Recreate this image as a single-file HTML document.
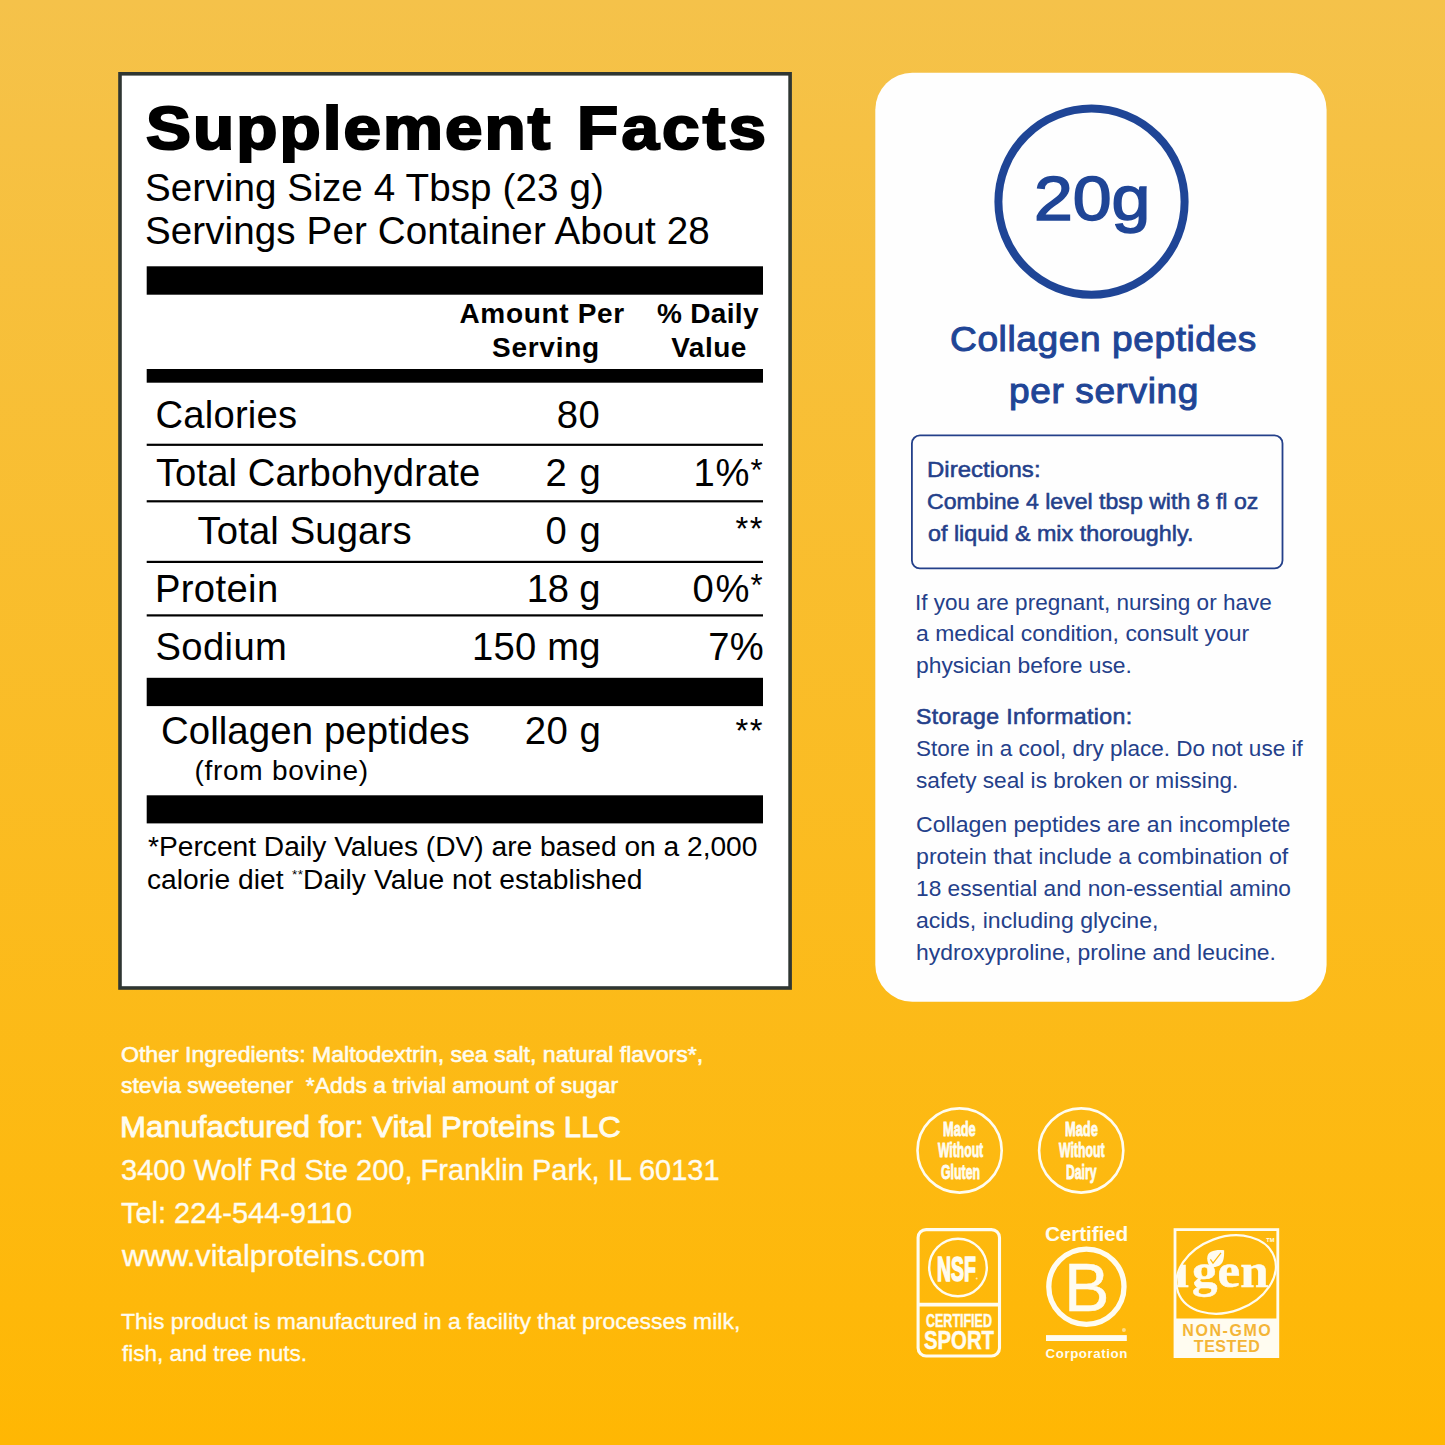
<!DOCTYPE html>
<html><head><meta charset="utf-8"><title>Supplement Facts</title>
<style>
html,body{margin:0;padding:0}
body{width:1445px;height:1445px;position:relative;overflow:hidden;background:linear-gradient(180deg,#f5c24a 0%,#ffb703 100%);font-family:"Liberation Sans",sans-serif}
.t{position:absolute;white-space:pre;margin:0;padding:0}
.a{position:absolute}
</style></head><body>
<svg class="a" style="left:0;top:0" width="1445" height="1445" viewBox="0 0 1445 1445">
<rect x="120" y="73.8" width="670.1" height="914.2" fill="#fff" stroke="#2f3632" stroke-width="3.6"/>
<g fill="#000">
<rect x="146.7" y="266.3" width="616.3" height="28.4"/>
<rect x="146.7" y="369" width="616.3" height="13.7"/>
<rect x="146.7" y="443.7" width="616.3" height="2.2"/>
<rect x="146.7" y="500.2" width="616.3" height="2.2"/>
<rect x="146.7" y="560.8" width="616.3" height="2.2"/>
<rect x="146.7" y="614.3" width="616.3" height="2.2"/>
<rect x="146.7" y="677.8" width="616.3" height="28.3"/>
<rect x="146.7" y="795.3" width="616.3" height="28.1"/>
</g>
<rect x="875.3" y="72.7" width="451.3" height="929" rx="37" fill="#fefefe"/>
<rect x="911.9" y="435.4" width="370.6" height="133" rx="8" fill="none" stroke="#24408a" stroke-width="1.8"/>
<circle cx="1091.5" cy="201.7" r="93.1" fill="none" stroke="#1f4596" stroke-width="8"/>
<g fill="none" stroke="#fffcf0">
<circle cx="959.6" cy="1150.5" r="42.1" stroke-width="2.6"/>
<circle cx="1081.2" cy="1150.5" r="42.1" stroke-width="2.6"/>
<rect x="918.1" y="1229.6" width="81.4" height="126.4" rx="8" stroke-width="3.1"/>
<line x1="918" y1="1304.7" x2="1000" y2="1304.7" stroke-width="3.8"/>
<circle cx="958" cy="1267.5" r="28.8" stroke-width="2.4"/>
<circle cx="1086.4" cy="1286.8" r="37.6" stroke-width="5.3"/>
<rect x="1175" y="1229.6" width="102.8" height="127" stroke-width="2.8"/>
</g>
<rect x="1046" y="1335.1" width="80.8" height="5.9" fill="#fffcf0"/>
<rect x="1175" y="1318.5" width="102.8" height="38.1" fill="#fffcf0"/>
<defs><clipPath id="ec"><ellipse cx="0" cy="0" rx="50.6" ry="36.6" transform="translate(1226.1 1274.5) rotate(-20.4)"/></clipPath></defs>
<ellipse cx="0" cy="0" rx="51.2" ry="37.2" transform="translate(1226.1 1274.5) rotate(-20.4)" fill="none" stroke="#fffcf0" stroke-width="2.2"/>
<g clip-path="url(#ec)" fill="#fffcf0" font-family="'Liberation Serif',serif" font-weight="700" font-size="48" stroke="#fffcf0" stroke-width="0.5">
<text x="1192" y="1287.1" textLength="76.5" lengthAdjust="spacingAndGlyphs">gen</text>
<text x="1174.2" y="1287.1" textLength="14.6" lengthAdjust="spacingAndGlyphs">&#305;</text>
</g>
<path d="M1224.1 1250.2C1216 1249.5 1207 1250.5 1207.2 1258.5C1207.3 1262 1208.5 1265 1210.5 1267.2C1215 1267.5 1221 1266.5 1223 1261C1224 1258 1224.3 1254 1224.1 1250.2Z" fill="#fffcf0"/>
<path d="M1210.4 1259.4L1213 1263.2L1221 1252.8" fill="none" stroke="#fdb80c" stroke-width="1.2"/>
<text x="1266.2" y="1242.2" font-family="'Liberation Sans',sans-serif" font-weight="700" font-size="5.2" fill="#fffcf0" textLength="8.2" lengthAdjust="spacingAndGlyphs">TM</text>
<circle cx="1123.9" cy="1329.9" r="2" fill="#fffcf0" opacity=".55"/>
<circle cx="976.6" cy="1278.6" r="1" fill="#fffcf0" opacity=".7"/>
</svg>
<div class="t" style="left:146.35px;top:98.40px;line-height:61.3px;color:#000;font-family:'Liberation Sans';font-size:61.3px;font-weight:700;letter-spacing:1.864px;-webkit-text-stroke:2.2px currentColor;transform:scaleX(1.1000);transform-origin:0 0;">Supplement</div>
<div class="t" style="left:576.70px;top:98.40px;line-height:61.3px;color:#000;font-family:'Liberation Sans';font-size:61.3px;font-weight:700;letter-spacing:2.920px;-webkit-text-stroke:2.2px currentColor;transform:scaleX(1.1000);transform-origin:0 0;">Facts</div>
<div class="t" style="left:144.90px;top:168.80px;line-height:38.6px;color:#000;font-family:'Liberation Sans';font-size:38.6px;font-weight:400;letter-spacing:0.120px;">Serving Size 4 Tbsp (23 g)</div>
<div class="t" style="left:144.90px;top:212.00px;line-height:38.6px;color:#000;font-family:'Liberation Sans';font-size:38.6px;font-weight:400;letter-spacing:0.097px;">Servings Per Container About 28</div>
<div class="t" style="left:459.40px;top:299.90px;line-height:28px;color:#000;font-family:'Liberation Sans';font-size:28px;font-weight:700;letter-spacing:0.689px;">Amount Per</div>
<div class="t" style="left:492.00px;top:333.60px;line-height:28px;color:#000;font-family:'Liberation Sans';font-size:28px;font-weight:700;letter-spacing:0.733px;">Serving</div>
<div class="t" style="left:657.00px;top:299.90px;line-height:28px;color:#000;font-family:'Liberation Sans';font-size:28px;font-weight:700;letter-spacing:0.317px;">% Daily</div>
<div class="t" style="left:671.20px;top:333.60px;line-height:28px;color:#000;font-family:'Liberation Sans';font-size:28px;font-weight:700;letter-spacing:0.500px;">Value</div>
<div class="t" style="left:155.40px;top:396.30px;line-height:38.2px;color:#000;font-family:'Liberation Sans';font-size:38.2px;font-weight:400;letter-spacing:0.243px;">Calories</div>
<div class="t" style="left:556.80px;top:396.30px;line-height:38.2px;color:#000;font-family:'Liberation Sans';font-size:38.2px;font-weight:400;letter-spacing:0.500px;">80</div>
<div class="t" style="left:155.90px;top:454.40px;line-height:38.2px;color:#000;font-family:'Liberation Sans';font-size:38.2px;font-weight:400;letter-spacing:0.100px;">Total Carbohydrate</div>
<div class="t" style="left:545.60px;top:454.40px;line-height:38.2px;color:#000;font-family:'Liberation Sans';font-size:38.2px;font-weight:400;letter-spacing:1.050px;">2 g</div>
<div class="t" style="left:693.60px;top:454.40px;line-height:38.2px;color:#000;font-family:'Liberation Sans';font-size:38.2px;font-weight:400;letter-spacing:0.600px;">1%</div>
<div class="t" style="left:750.40px;top:454.50px;line-height:31px;color:#000;font-family:'Liberation Sans';font-size:31px;font-weight:400;letter-spacing:0.000px;">*</div>
<div class="t" style="left:197.50px;top:512.20px;line-height:38.2px;color:#000;font-family:'Liberation Sans';font-size:38.2px;font-weight:400;letter-spacing:0.155px;">Total Sugars</div>
<div class="t" style="left:545.60px;top:512.20px;line-height:38.2px;color:#000;font-family:'Liberation Sans';font-size:38.2px;font-weight:400;letter-spacing:1.050px;">0 g</div>
<div class="t" style="left:735.50px;top:513.10px;line-height:32.8px;color:#000;font-family:'Liberation Sans';font-size:32.8px;font-weight:400;letter-spacing:1.400px;">**</div>
<div class="t" style="left:154.90px;top:569.50px;line-height:38.2px;color:#000;font-family:'Liberation Sans';font-size:38.2px;font-weight:400;letter-spacing:0.383px;">Protein</div>
<div class="t" style="left:526.70px;top:569.50px;line-height:38.2px;color:#000;font-family:'Liberation Sans';font-size:38.2px;font-weight:400;letter-spacing:-0.167px;">18 g</div>
<div class="t" style="left:692.60px;top:569.50px;line-height:38.2px;color:#000;font-family:'Liberation Sans';font-size:38.2px;font-weight:400;letter-spacing:1.600px;">0%</div>
<div class="t" style="left:750.40px;top:569.60px;line-height:31px;color:#000;font-family:'Liberation Sans';font-size:31px;font-weight:400;letter-spacing:0.000px;">*</div>
<div class="t" style="left:155.40px;top:627.50px;line-height:38.2px;color:#000;font-family:'Liberation Sans';font-size:38.2px;font-weight:400;letter-spacing:0.400px;">Sodium</div>
<div class="t" style="left:471.90px;top:627.50px;line-height:38.2px;color:#000;font-family:'Liberation Sans';font-size:38.2px;font-weight:400;letter-spacing:0.260px;">150 mg</div>
<div class="t" style="left:708.30px;top:627.50px;line-height:38.2px;color:#000;font-family:'Liberation Sans';font-size:38.2px;font-weight:400;letter-spacing:0.300px;">7%</div>
<div class="t" style="left:160.90px;top:712.30px;line-height:38.4px;color:#000;font-family:'Liberation Sans';font-size:38.4px;font-weight:400;letter-spacing:0.087px;">Collagen peptides</div>
<div class="t" style="left:524.70px;top:712.30px;line-height:38.4px;color:#000;font-family:'Liberation Sans';font-size:38.4px;font-weight:400;letter-spacing:0.500px;">20 g</div>
<div class="t" style="left:735.50px;top:715.40px;line-height:32.8px;color:#000;font-family:'Liberation Sans';font-size:32.8px;font-weight:400;letter-spacing:1.500px;">**</div>
<div class="t" style="left:194.50px;top:757.00px;line-height:28px;color:#000;font-family:'Liberation Sans';font-size:28px;font-weight:400;letter-spacing:0.717px;">(from bovine)</div>
<div class="t" style="left:148.10px;top:831.60px;line-height:28.2px;color:#000;font-family:'Liberation Sans';font-size:28.2px;font-weight:400;letter-spacing:-0.026px;">*Percent Daily Values (DV) are based on a 2,000</div>
<div class="t" style="left:146.90px;top:865.20px;line-height:28.2px;color:#000;font-family:'Liberation Sans';font-size:28.2px;font-weight:400;letter-spacing:0.027px;">calorie diet</div>
<div class="t" style="left:292.10px;top:868.00px;line-height:13.5px;color:#000;font-family:'Liberation Sans';font-size:13.5px;font-weight:400;letter-spacing:0.500px;">**</div>
<div class="t" style="left:303.10px;top:865.20px;line-height:28.2px;color:#000;font-family:'Liberation Sans';font-size:28.2px;font-weight:400;letter-spacing:0.054px;">Daily Value not established</div>
<div class="t" style="left:1034.37px;top:167.10px;line-height:63.8px;color:#1f4596;font-family:'Liberation Sans';font-size:63.8px;font-weight:400;letter-spacing:0.000px;-webkit-text-stroke:1.6px currentColor;transform:scaleX(1.0935);transform-origin:0 0;">20g</div>
<div class="t" style="left:949.61px;top:321.40px;line-height:35px;color:#1f4596;font-family:'Liberation Sans';font-size:35px;font-weight:400;letter-spacing:0.550px;-webkit-text-stroke:1.0px currentColor;transform:scaleX(1.0600);transform-origin:0 0;">Collagen peptides</div>
<div class="t" style="left:1008.61px;top:372.80px;line-height:35px;color:#1f4596;font-family:'Liberation Sans';font-size:35px;font-weight:400;letter-spacing:0.547px;-webkit-text-stroke:1.0px currentColor;transform:scaleX(1.0600);transform-origin:0 0;">per serving</div>
<div class="t" style="left:926.62px;top:458.10px;line-height:22.8px;color:#24408a;font-family:'Liberation Sans';font-size:22.8px;font-weight:400;letter-spacing:0.045px;-webkit-text-stroke:0.55px currentColor;transform:scaleX(1.0500);transform-origin:0 0;">Directions:</div>
<div class="t" style="left:927.19px;top:490.20px;line-height:22.8px;color:#24408a;font-family:'Liberation Sans';font-size:22.8px;font-weight:400;letter-spacing:0.000px;-webkit-text-stroke:0.55px currentColor;transform:scaleX(1.0135);transform-origin:0 0;">Combine 4 level tbsp with 8 fl oz</div>
<div class="t" style="left:927.69px;top:521.80px;line-height:22.8px;color:#24408a;font-family:'Liberation Sans';font-size:22.8px;font-weight:400;letter-spacing:0.000px;-webkit-text-stroke:0.55px currentColor;transform:scaleX(1.0233);transform-origin:0 0;">of liquid &amp; mix thoroughly.</div>
<div class="t" style="left:915.25px;top:592.00px;line-height:22px;color:#24408a;font-family:'Liberation Sans';font-size:22px;font-weight:400;letter-spacing:0.000px;transform:scaleX(1.0234);transform-origin:0 0;">If you are pregnant, nursing or have</div>
<div class="t" style="left:916.26px;top:623.20px;line-height:22px;color:#24408a;font-family:'Liberation Sans';font-size:22px;font-weight:400;letter-spacing:0.000px;transform:scaleX(1.0440);transform-origin:0 0;">a medical condition, consult your</div>
<div class="t" style="left:915.74px;top:655.30px;line-height:22px;color:#24408a;font-family:'Liberation Sans';font-size:22px;font-weight:400;letter-spacing:0.000px;transform:scaleX(1.0386);transform-origin:0 0;">physician before use.</div>
<div class="t" style="left:916.25px;top:706.30px;line-height:22px;color:#24408a;font-family:'Liberation Sans';font-size:22px;font-weight:400;letter-spacing:0.345px;-webkit-text-stroke:0.55px currentColor;transform:scaleX(1.0500);transform-origin:0 0;">Storage Information:</div>
<div class="t" style="left:916.28px;top:738.30px;line-height:22px;color:#24408a;font-family:'Liberation Sans';font-size:22px;font-weight:400;letter-spacing:-0.000px;transform:scaleX(1.0233);transform-origin:0 0;">Store in a cool, dry place. Do not use if</div>
<div class="t" style="left:916.27px;top:770.20px;line-height:22px;color:#24408a;font-family:'Liberation Sans';font-size:22px;font-weight:400;letter-spacing:0.000px;transform:scaleX(1.0300);transform-origin:0 0;">safety seal is broken or missing.</div>
<div class="t" style="left:916.25px;top:814.40px;line-height:22px;color:#24408a;font-family:'Liberation Sans';font-size:22px;font-weight:400;letter-spacing:0.000px;transform:scaleX(1.0485);transform-origin:0 0;">Collagen peptides are an incomplete</div>
<div class="t" style="left:915.72px;top:846.40px;line-height:22px;color:#24408a;font-family:'Liberation Sans';font-size:22px;font-weight:400;letter-spacing:0.029px;transform:scaleX(1.0500);transform-origin:0 0;">protein that include a combination of</div>
<div class="t" style="left:915.75px;top:877.80px;line-height:22px;color:#24408a;font-family:'Liberation Sans';font-size:22px;font-weight:400;letter-spacing:0.000px;transform:scaleX(1.0324);transform-origin:0 0;">18 essential and non-essential amino</div>
<div class="t" style="left:916.25px;top:909.70px;line-height:22px;color:#24408a;font-family:'Liberation Sans';font-size:22px;font-weight:400;letter-spacing:0.000px;transform:scaleX(1.0487);transform-origin:0 0;">acids, including glycine,</div>
<div class="t" style="left:915.74px;top:941.70px;line-height:22px;color:#24408a;font-family:'Liberation Sans';font-size:22px;font-weight:400;letter-spacing:0.000px;transform:scaleX(1.0400);transform-origin:0 0;">hydroxyproline, proline and leucine.</div>
<div class="t" style="left:121.08px;top:1043.50px;line-height:22px;color:#fffcf0;font-family:'Liberation Sans';font-size:22px;font-weight:400;letter-spacing:0.000px;-webkit-text-stroke:0.6px currentColor;transform:scaleX(1.0485);transform-origin:0 0;">Other Ingredients: Maltodextrin, sea salt, natural flavors*,</div>
<div class="t" style="left:121.08px;top:1075.40px;line-height:22px;color:#fffcf0;font-family:'Liberation Sans';font-size:22px;font-weight:400;letter-spacing:0.000px;-webkit-text-stroke:0.6px currentColor;transform:scaleX(1.0422);transform-origin:0 0;">stevia sweetener  *Adds a trivial amount of sugar</div>
<div class="t" style="left:119.53px;top:1112.30px;line-height:30px;color:#fffcf0;font-family:'Liberation Sans';font-size:30px;font-weight:400;letter-spacing:0.000px;-webkit-text-stroke:0.9px currentColor;transform:scaleX(1.0366);transform-origin:0 0;">Manufactured for: Vital Proteins LLC</div>
<div class="t" style="left:120.63px;top:1155.20px;line-height:29.8px;color:#fffcf0;font-family:'Liberation Sans';font-size:29.8px;font-weight:400;letter-spacing:0.000px;-webkit-text-stroke:0.35px currentColor;transform:scaleX(0.9742);transform-origin:0 0;">3400 Wolf Rd Ste 200, Franklin Park, IL 60131</div>
<div class="t" style="left:121.11px;top:1198.00px;line-height:29.8px;color:#fffcf0;font-family:'Liberation Sans';font-size:29.8px;font-weight:400;letter-spacing:0.000px;-webkit-text-stroke:0.35px currentColor;transform:scaleX(0.9712);transform-origin:0 0;">Tel: 224-544-9110</div>
<div class="t" style="left:121.60px;top:1241.00px;line-height:29.8px;color:#fffcf0;font-family:'Liberation Sans';font-size:29.8px;font-weight:400;letter-spacing:0.000px;-webkit-text-stroke:0.35px currentColor;transform:scaleX(1.0297);transform-origin:0 0;">www.vitalproteins.com</div>
<div class="t" style="left:121.09px;top:1310.60px;line-height:22.6px;color:#fffcf0;font-family:'Liberation Sans';font-size:22.6px;font-weight:400;letter-spacing:0.000px;-webkit-text-stroke:0.35px currentColor;transform:scaleX(1.0168);transform-origin:0 0;">This product is manufactured in a facility that processes milk,</div>
<div class="t" style="left:121.60px;top:1342.50px;line-height:22.6px;color:#fffcf0;font-family:'Liberation Sans';font-size:22.6px;font-weight:400;letter-spacing:0.000px;-webkit-text-stroke:0.35px currentColor;transform:scaleX(0.9957);transform-origin:0 0;">fish, and tree nuts.</div>
<div class="t" style="left:943.38px;top:1119.20px;line-height:20.8px;color:#fffcf0;font-family:'Liberation Sans';font-size:20.8px;font-weight:700;letter-spacing:0.000px;-webkit-text-stroke:0.9px currentColor;transform:scaleX(0.6154);transform-origin:0 0;">Made</div>
<div class="t" style="left:937.69px;top:1140.40px;line-height:20.8px;color:#fffcf0;font-family:'Liberation Sans';font-size:20.8px;font-weight:700;letter-spacing:0.000px;-webkit-text-stroke:0.9px currentColor;transform:scaleX(0.5846);transform-origin:0 0;">Without</div>
<div class="t" style="left:940.90px;top:1161.50px;line-height:20.8px;color:#fffcf0;font-family:'Liberation Sans';font-size:20.8px;font-weight:700;letter-spacing:0.000px;-webkit-text-stroke:0.9px currentColor;transform:scaleX(0.5922);transform-origin:0 0;">Gluten</div>
<div class="t" style="left:1065.28px;top:1119.20px;line-height:20.8px;color:#fffcf0;font-family:'Liberation Sans';font-size:20.8px;font-weight:700;letter-spacing:0.000px;-webkit-text-stroke:0.9px currentColor;transform:scaleX(0.6173);transform-origin:0 0;">Made</div>
<div class="t" style="left:1059.39px;top:1140.40px;line-height:20.8px;color:#fffcf0;font-family:'Liberation Sans';font-size:20.8px;font-weight:700;letter-spacing:0.000px;-webkit-text-stroke:0.9px currentColor;transform:scaleX(0.5897);transform-origin:0 0;">Without</div>
<div class="t" style="left:1066.01px;top:1161.50px;line-height:20.8px;color:#fffcf0;font-family:'Liberation Sans';font-size:20.8px;font-weight:700;letter-spacing:0.000px;-webkit-text-stroke:0.9px currentColor;transform:scaleX(0.5864);transform-origin:0 0;">Dairy</div>
<div class="t" style="left:937.37px;top:1250.80px;line-height:35px;color:#fffcf0;font-family:'Liberation Sans';font-size:35px;font-weight:700;letter-spacing:0.000px;-webkit-text-stroke:1.6px currentColor;transform:scaleX(0.5544);transform-origin:0 0;">NSF</div>
<div class="t" style="left:925.67px;top:1311.80px;line-height:18.75px;color:#fffcf0;font-family:'Liberation Sans';font-size:18.75px;font-weight:700;letter-spacing:0.000px;-webkit-text-stroke:0.5px currentColor;transform:scaleX(0.6663);transform-origin:0 0;">CERTIFIED</div>
<div class="t" style="left:923.61px;top:1327.20px;line-height:26px;color:#fffcf0;font-family:'Liberation Sans';font-size:26px;font-weight:700;letter-spacing:0.000px;-webkit-text-stroke:0.5px currentColor;transform:scaleX(0.7820);transform-origin:0 0;">SPORT</div>
<div class="t" style="left:1045.00px;top:1223.90px;line-height:20.8px;color:#fffcf0;font-family:'Liberation Sans';font-size:20.8px;font-weight:700;letter-spacing:-0.150px;">Certified</div>
<div class="t" style="left:1064.28px;top:1253.00px;line-height:68px;color:#fffcf0;font-family:'Liberation Sans';font-size:68px;font-weight:400;letter-spacing:0.000px;-webkit-text-stroke:0.5px currentColor;transform:scaleX(1.0027);transform-origin:0 0;">B</div>
<div class="t" style="left:1045.50px;top:1346.80px;line-height:13.3px;color:#fffcf0;font-family:'Liberation Sans';font-size:13.3px;font-weight:700;letter-spacing:0.580px;">Corporation</div>
<div class="t" style="left:1182.30px;top:1323.20px;line-height:16px;color:#f4b537;font-family:'Liberation Sans';font-size:16px;font-weight:700;letter-spacing:1.567px;">NON-GMO</div>
<div class="t" style="left:1193.80px;top:1338.70px;line-height:16px;color:#f4b537;font-family:'Liberation Sans';font-size:16px;font-weight:700;letter-spacing:0.560px;">TESTED</div>
</body></html>
